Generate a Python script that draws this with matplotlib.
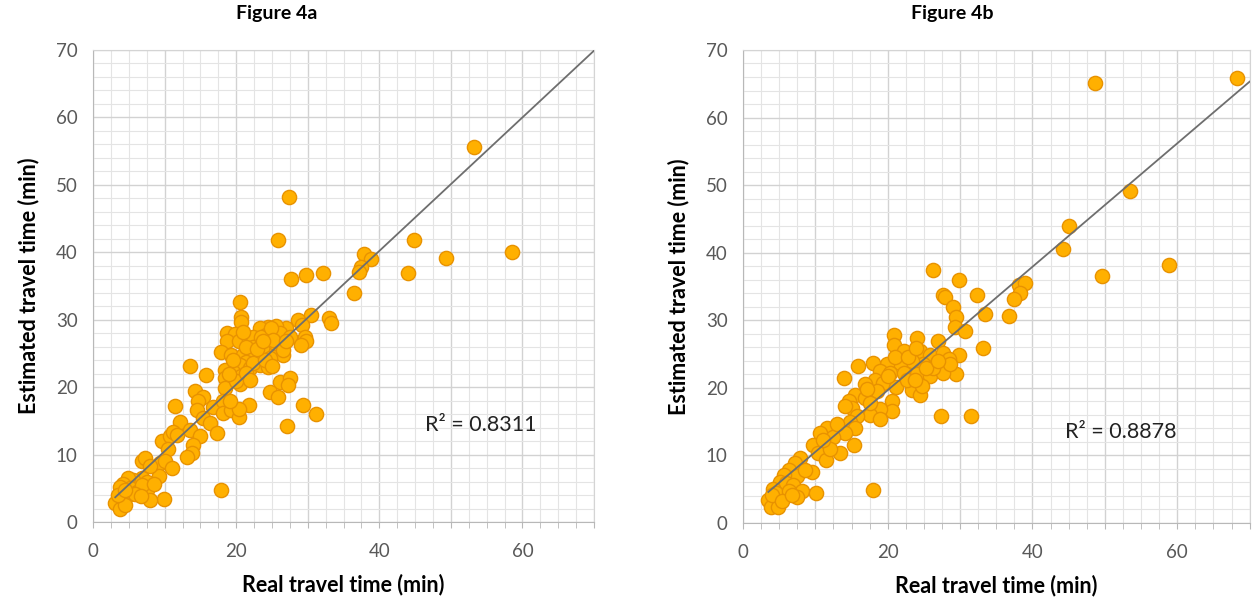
"""
Scatter comparison of real vs estimated travel times (Figure 4a / 4b).
"""
import matplotlib
matplotlib.use('Agg')
import matplotlib.pyplot as plt
from matplotlib.ticker import MultipleLocator, FuncFormatter
import numpy as np

plt.rcParams['font.family'] = ['Lato', 'DejaVu Sans']

# Figure 4a: real vs estimated travel time (min)
real_a = [
    53.2, 27.4, 25.9, 44.8, 58.6, 49.3, 37.9, 38.9, 44.0, 37.5, 37.2, 36.5,
    27.6, 29.7, 32.1, 20.5, 20.7, 20.7, 30.4, 33.0, 33.2, 28.6, 29.2, 27.0,
    25.6, 24.4, 23.3, 18.7, 19.9, 18.7, 20.4, 21.8, 22.4, 24.2, 26.1, 27.5,
    29.6, 29.7, 29.1, 26.6, 25.6, 23.3, 22.4, 17.9, 19.3, 21.0, 22.4, 24.0,
    25.6, 26.6, 24.7, 23.3, 21.4, 20.5, 21.9, 23.3, 24.5, 18.5, 19.6, 20.7,
    18.5, 13.5, 15.8, 26.1, 27.5, 27.3, 24.7, 25.9, 20.6, 18.4, 21.8, 29.3,
    31.2, 27.1, 17.9, 14.2, 15.4, 14.7, 16.8, 18.2, 18.2, 19.3, 20.4, 20.4,
    11.4, 14.5, 15.4, 16.3, 17.3, 12.1, 13.5, 14.9, 14.0, 13.8, 13.1, 9.6,
    10.7, 11.2, 11.7, 10.5, 9.3, 10.0, 11.1, 9.2, 9.9, 6.9, 7.3, 7.9,
    6.8, 7.5, 6.3, 5.6, 4.9, 4.2, 3.8, 5.2, 6.1, 7.5, 4.9, 4.0,
    8.0, 3.1, 3.8, 4.5, 3.5, 6.8, 21.4, 23.5, 24.9, 22.4, 24.0, 25.4,
    26.6, 19.6, 20.0, 21.4, 19.1, 22.9, 25.1, 21.0, 26.9, 23.8, 19.0,
    22.0, 25.0, 5.8, 4.4, 6.7, 8.5,
]
est_a = [
    55.6, 48.2, 41.8, 41.8, 40.0, 39.2, 39.8, 39.0, 36.9, 37.8, 37.1, 34.0,
    36.1, 36.6, 36.9, 32.6, 30.4, 29.6, 30.7, 30.2, 29.5, 30.0, 29.2, 28.8,
    29.0, 28.9, 28.7, 28.0, 27.9, 26.9, 26.8, 27.0, 27.5, 27.8, 28.0, 27.5,
    27.5, 26.8, 26.3, 26.3, 26.5, 26.5, 26.0, 25.2, 24.8, 24.8, 25.0, 25.3,
    25.3, 24.7, 24.3, 24.1, 23.8, 23.3, 22.8, 23.3, 23.0, 22.6, 22.3, 21.6,
    21.3, 23.1, 21.8, 20.8, 21.4, 20.3, 19.3, 18.5, 20.5, 19.9, 17.4, 17.3,
    16.0, 14.2, 4.8, 19.4, 18.6, 17.9, 17.1, 17.9, 16.2, 16.6, 15.6, 16.7,
    17.2, 16.6, 15.4, 14.7, 13.2, 14.9, 13.7, 12.7, 11.4, 10.3, 9.6, 12.0,
    12.7, 13.4, 12.9, 10.9, 8.7, 9.0, 8.0, 6.8, 3.4, 9.1, 9.5, 8.3,
    6.5, 6.0, 5.5, 6.2, 6.5, 5.7, 5.2, 5.0, 4.5, 4.8, 4.0, 3.8,
    3.2, 2.8, 1.9, 2.5, 4.0, 5.5, 26.0, 27.5, 28.7, 23.6, 24.1, 26.5,
    25.5, 24.0, 20.9, 22.1, 17.9, 25.6, 27.0, 28.2, 26.9, 26.9, 22.0,
    21.0, 23.2, 4.2, 4.7, 3.8, 5.6,
]

# Figure 4b
real_b = [
    68.2, 48.7, 53.5, 45.1, 44.2, 58.9, 49.6, 26.2, 29.9, 32.3, 27.7, 27.9,
    38.1, 39.0, 38.3, 37.5, 36.8, 33.5, 29.0, 29.4, 29.3, 30.7, 33.1, 29.5,
    27.0, 24.1, 20.9, 20.9, 22.2, 24.5, 25.9, 27.7, 29.8, 28.4, 26.8, 24.9,
    23.3, 21.7, 19.9, 18.0, 15.9, 13.9, 18.9, 20.3, 22.2, 24.0, 25.9, 27.7,
    18.2, 19.4, 21.2, 23.3, 24.5, 24.7, 18.5, 15.5, 16.9, 14.6, 15.0, 14.1,
    20.6, 20.6, 18.9, 17.6, 18.9, 27.3, 31.5, 18.0, 15.7, 14.8, 15.5, 14.1,
    11.6, 10.6, 12.5, 9.7, 10.4, 15.3, 13.4, 11.5, 9.5, 7.9, 7.2, 6.3,
    7.4, 5.6, 5.1, 6.0, 6.9, 8.1, 7.4, 10.1, 4.2, 4.6, 3.5, 3.9,
    4.9, 6.3, 4.0, 22.6, 26.3, 28.6, 21.0, 23.8, 16.9, 17.6, 22.8, 25.3,
    20.0, 23.9, 27.0, 17.2, 12.0, 8.5, 5.4, 6.8, 11.0, 13.0,
]
est_b = [
    65.8, 65.1, 49.1, 44.0, 40.5, 38.2, 36.5, 37.5, 36.0, 33.8, 33.8, 33.4,
    35.2, 35.5, 34.1, 33.2, 30.7, 31.0, 31.9, 30.5, 29.0, 28.4, 25.9, 22.1,
    26.9, 27.4, 27.8, 26.4, 25.4, 25.4, 24.9, 25.2, 24.8, 24.2, 23.7, 23.5,
    24.0, 23.7, 23.5, 23.7, 23.2, 21.4, 22.5, 22.2, 22.2, 22.0, 21.7, 22.2,
    21.2, 20.7, 20.2, 19.7, 19.0, 20.3, 19.5, 19.0, 18.5, 18.0, 17.0, 17.3,
    18.0, 16.6, 16.8, 16.0, 15.4, 15.9, 15.9, 4.9, 15.8, 15.0, 14.1, 13.3,
    14.1, 13.3, 12.8, 11.6, 10.3, 11.6, 10.4, 9.3, 7.6, 9.6, 8.9, 7.9,
    6.9, 7.1, 6.1, 5.9, 5.6, 4.7, 3.9, 4.5, 5.1, 4.4, 3.4, 2.3,
    2.3, 4.7, 4.2, 21.2, 23.0, 23.5, 24.5, 21.2, 20.6, 17.8, 24.6, 23.0,
    21.8, 25.9, 24.0, 19.8, 11.0, 7.8, 3.2, 4.1, 12.3, 14.7,
]

# Excel-style linear trendlines (slope, intercept) and R²
trend_a = (0.99, 0.6)
trend_b = (0.913, 1.4)
r2_a = 0.8311
r2_b = 0.8878

FACE = '#FFB000'
EDGE = '#E89200'
TICK_COLOR = '#595959'


def style_axes(ax):
    ax.set_xlim(0, 70)
    ax.set_ylim(0, 70)
    ax.xaxis.set_major_locator(MultipleLocator(10))
    ax.xaxis.set_minor_locator(MultipleLocator(2.5))
    ax.yaxis.set_major_locator(MultipleLocator(10))
    ax.yaxis.set_minor_locator(MultipleLocator(2))
    ax.xaxis.set_major_formatter(
        FuncFormatter(lambda v, p: f'{int(v)}' if int(v) % 20 == 0 else ''))
    ax.grid(True, which='major', color='#d2d2d2', linewidth=1.0)
    ax.grid(True, which='minor', color='#e4e4e4', linewidth=0.8)
    ax.set_axisbelow(True)
    for s in ax.spines.values():
        s.set_color('#d4d4d4')
    ax.spines['left'].set_color('#b8b8b8')
    ax.spines['bottom'].set_color('#b8b8b8')
    ax.tick_params(axis='x', which='both', direction='out', length=4,
                   color='#b8b8b8', labelsize=13.5, labelcolor=TICK_COLOR,
                   pad=11)
    ax.tick_params(axis='y', which='both', length=0, labelsize=13.5,
                   labelcolor=TICK_COLOR, pad=11)


def draw_panel(ax, real, est, trend, r2, r2_pos):
    style_axes(ax)
    ax.scatter(real, est, s=105, color=FACE, edgecolors=EDGE,
               linewidths=1.0, zorder=3)
    slope, intercept = trend
    xs = np.array([min(real), 70])
    ax.plot(xs, slope * xs + intercept, color='#6e6e6e', linewidth=1.3,
            zorder=4)
    ax.text(r2_pos[0], r2_pos[1], f'R² = {r2:.4f}', fontsize=15.5,
            color='#222222', va='center', zorder=5)
    ax.set_xlabel('Real travel time (min)', fontsize=15.5, fontweight='bold',
                  labelpad=10)
    ax.set_ylabel('Estimated travel time (min)', fontsize=15.5,
                  fontweight='bold', labelpad=12)


fig = plt.figure(figsize=(12.54, 6.08), dpi=100)
ax_a = fig.add_axes([0.0742, 0.1414, 0.3995, 0.7764])
ax_b = fig.add_axes([0.5925, 0.1398, 0.4040, 0.7780])

draw_panel(ax_a, real_a, est_a, trend_a, r2_a, (46.4, 14.4))
draw_panel(ax_b, real_b, est_b, trend_b, r2_b, (44.5, 13.4))

fig.text(277 / 1254, 1 - 14 / 608, 'Figure 4a', ha='center', va='center',
         fontsize=14, fontweight='bold')
fig.text(952 / 1254, 1 - 14 / 608, 'Figure 4b', ha='center', va='center',
         fontsize=14, fontweight='bold')

fig.savefig('out.png', dpi=100, facecolor='white')
